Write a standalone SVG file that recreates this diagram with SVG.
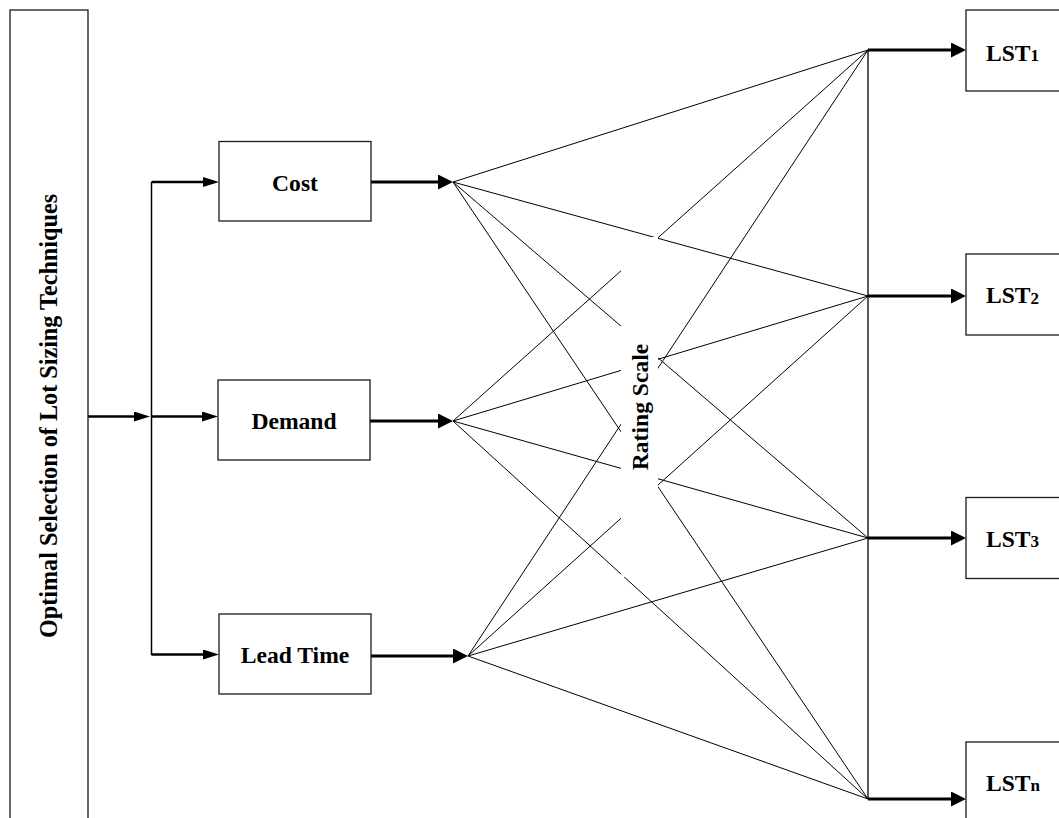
<svg xmlns="http://www.w3.org/2000/svg" width="1059" height="818" viewBox="0 0 1059 818">
  <style>
    .box { fill: #fff; stroke: #1a1a1a; stroke-width: 1.3; }
    .lbl { font-family: "Liberation Serif", "Times New Roman", serif; font-weight: bold; font-size: 23.6px; fill: #000; }
    .title { font-size: 24.2px; }
    .sub { font-size: 17px; }
    .feed { fill: none; stroke: #000; stroke-width: 2.5; }
    .out { fill: none; stroke: #000; stroke-width: 3; }
    .thin { fill: none; stroke: #000; stroke-width: 1; }
  </style>
  <defs>
    <marker id="headSmall" markerUnits="userSpaceOnUse" markerWidth="16" markerHeight="10" viewBox="0 0 16 10" refX="6" refY="5" orient="auto">
      <path d="M0,0 L16,5 L0,10 Z" fill="#000"/>
    </marker>
    <marker id="headBig" markerUnits="userSpaceOnUse" markerWidth="15" markerHeight="15" viewBox="0 0 15 15" refX="5" refY="7.5" orient="auto">
      <path d="M0,0 L15,7.5 L0,15 Z" fill="#000"/>
    </marker>
  </defs>
  <rect width="1059" height="818" fill="#fff"/>

  <g id="connectors">
    <!-- goal to criteria feed -->
    <line class="feed" x1="88" y1="416.5" x2="140" y2="416.5" marker-end="url(#headSmall)"/>
    <line class="thin" x1="151.5" y1="182" x2="151.5" y2="655" style="stroke-width:1.5"/>
    <line class="feed" x1="151.5" y1="182" x2="209" y2="182" marker-end="url(#headSmall)"/>
    <line class="feed" x1="151.5" y1="416.5" x2="208" y2="416.5" marker-end="url(#headSmall)"/>
    <line class="feed" x1="151.5" y1="654.5" x2="209" y2="654.5" marker-end="url(#headSmall)"/>

    <!-- criteria outputs -->
    <line class="out" x1="371" y1="182" x2="443" y2="182" marker-end="url(#headBig)"/>
    <line class="out" x1="370" y1="421" x2="443" y2="421" marker-end="url(#headBig)"/>
    <line class="out" x1="371" y1="656" x2="458" y2="656" marker-end="url(#headBig)"/>

    <!-- rating fan: every criterion to every technique -->
    <g class="thin">
      <line x1="453" y1="182" x2="868" y2="50"/>
      <line x1="453" y1="182" x2="868" y2="296"/>
      <line x1="453" y1="182" x2="868" y2="538"/>
      <line x1="453" y1="182" x2="868" y2="799"/>
      <line x1="453" y1="421" x2="868" y2="50"/>
      <line x1="453" y1="421" x2="868" y2="296"/>
      <line x1="453" y1="421" x2="868" y2="538"/>
      <line x1="453" y1="421" x2="868" y2="799"/>
      <line x1="468" y1="656" x2="868" y2="50"/>
      <line x1="468" y1="656" x2="868" y2="296"/>
      <line x1="468" y1="656" x2="868" y2="538"/>
      <line x1="468" y1="656" x2="868" y2="799"/>
    </g>

    <!-- technique bus -->
    <line class="thin" x1="868" y1="50" x2="868" y2="799" style="stroke-width:1.3"/>
    <line class="out" x1="868" y1="50" x2="956" y2="50" marker-end="url(#headBig)"/>
    <line class="out" x1="868" y1="296" x2="956" y2="296" marker-end="url(#headBig)"/>
    <line class="out" x1="868" y1="538" x2="956" y2="538" marker-end="url(#headBig)"/>
    <line class="out" x1="868" y1="799" x2="956" y2="799" marker-end="url(#headBig)"/>
  </g>

  <g id="rating-scale">
    <rect x="621" y="237" width="37" height="340" fill="#fff"/>
    <text class="lbl" transform="translate(647.5,407) rotate(-90)" text-anchor="middle">Rating Scale</text>
  </g>

  <g id="goal">
    <rect class="box" x="10" y="10" width="78" height="830"/>
    <text class="lbl title" transform="translate(57,416) rotate(-90)" text-anchor="middle">Optimal Selection of Lot Sizing Techniques</text>
  </g>

  <g id="cost">
    <rect class="box" x="219" y="141.5" width="152" height="79.5"/>
    <text class="lbl" x="295" y="190.5" text-anchor="middle">Cost</text>
  </g>
  <g id="demand">
    <rect class="box" x="218" y="380" width="152" height="80"/>
    <text class="lbl" x="294" y="429.3" text-anchor="middle">Demand</text>
  </g>
  <g id="lead-time">
    <rect class="box" x="219" y="614" width="152" height="80"/>
    <text class="lbl" x="295" y="663.3" text-anchor="middle">Lead Time</text>
  </g>

  <g id="lst1">
    <rect class="box" x="966" y="10" width="120" height="81"/>
    <text class="lbl" x="986" y="60.5">LST<tspan class="sub" dy="0.5">1</tspan></text>
  </g>
  <g id="lst2">
    <rect class="box" x="966" y="254" width="120" height="81"/>
    <text class="lbl" x="986" y="303.3">LST<tspan class="sub" dy="0.5">2</tspan></text>
  </g>
  <g id="lst3">
    <rect class="box" x="966" y="497.5" width="120" height="81"/>
    <text class="lbl" x="986" y="546.7">LST<tspan class="sub" dy="0.5">3</tspan></text>
  </g>
  <g id="lstn">
    <rect class="box" x="966" y="742" width="120" height="90"/>
    <text class="lbl" x="986" y="790.7">LST<tspan class="sub" dy="0.5">n</tspan></text>
  </g>
</svg>
